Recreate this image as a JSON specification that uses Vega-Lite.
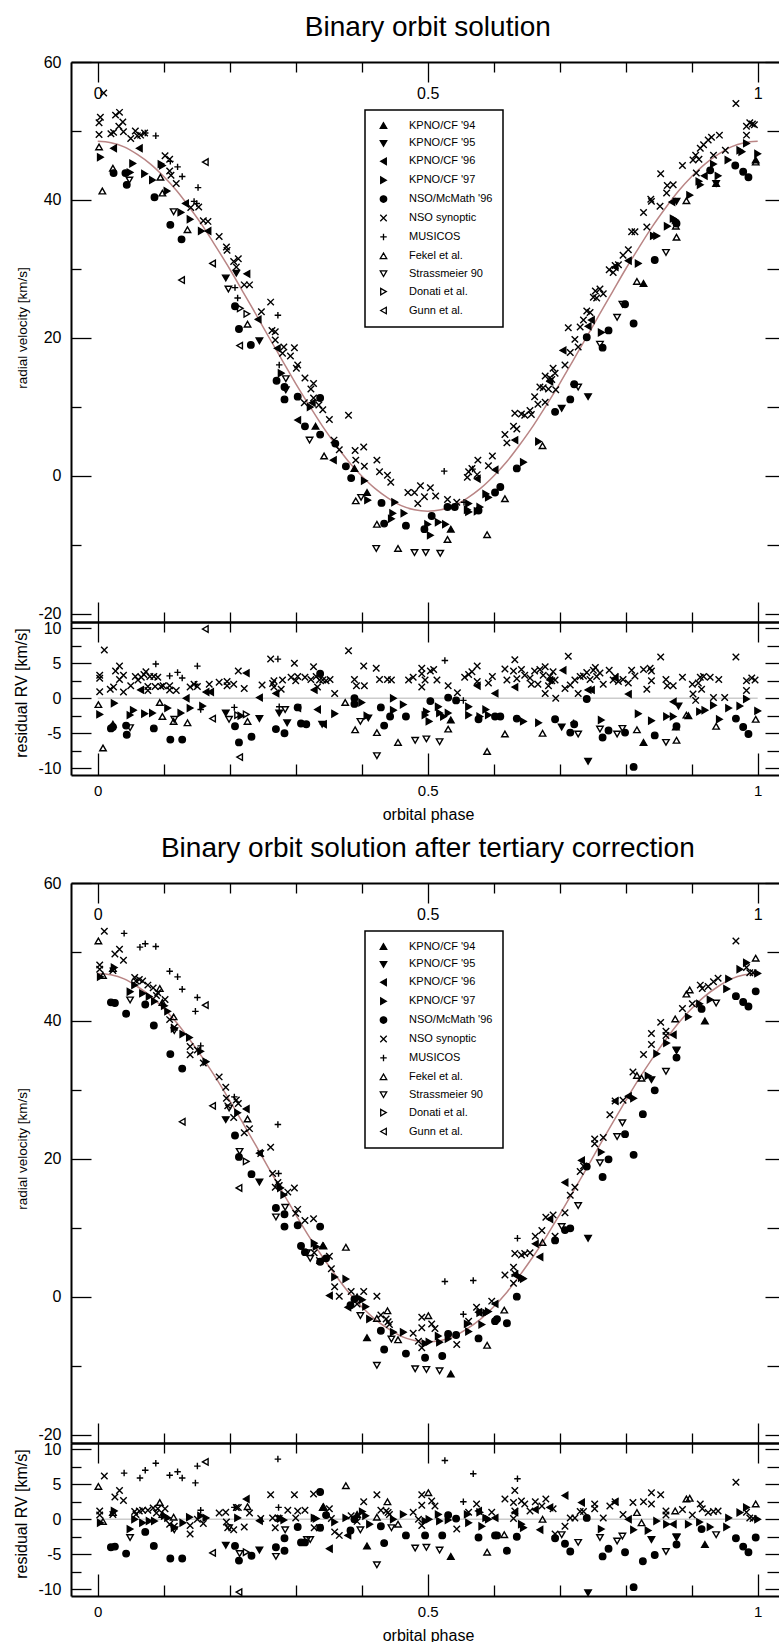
{
"$schema":"https://vega.github.io/schema/vega-lite/v6.json",
"padding":{"left":13,"top":13,"right":0,"bottom":0},
"background":"white",
"spacing":12,
"config":{
"view":{"stroke":null},
"font":"Liberation Sans",
"axis":{"domainColor":"#000","domainWidth":2,"tickColor":"#000","tickWidth":1.3,"labelFont":"Liberation Sans","labelFontSize":16,"labelColor":"#000","titleFont":"Liberation Sans","titleFontWeight":"normal","titleColor":"#000","grid":false,"labelFlush":false,"labelOverlap":false},
"title":{"font":"Liberation Sans","fontSize":28,"fontWeight":"normal","color":"#000"},
"legend":{"strokeWidth":1.5}
},
"resolve":{"scale":{"x":"independent","y":"independent","shape":"independent","fill":"independent","size":"independent"}},
"datasets":{
"z":[{"a":0,"b":1,"z":0}],
"c1":[{"p":0,"v":48.5},{"p":0.02,"v":48.3},{"p":0.04,"v":47.7},{"p":0.06,"v":46.6},{"p":0.08,"v":45.2},{"p":0.1,"v":43.4},{"p":0.12,"v":41.3},{"p":0.14,"v":38.8},{"p":0.16,"v":36.1},{"p":0.18,"v":33.1},{"p":0.2,"v":30.0},{"p":0.22,"v":26.7},{"p":0.24,"v":23.4},{"p":0.26,"v":20.0},{"p":0.28,"v":16.7},{"p":0.3,"v":13.4},{"p":0.32,"v":10.3},{"p":0.34,"v":7.3},{"p":0.36,"v":4.6},{"p":0.38,"v":2.1},{"p":0.4,"v":0.0},{"p":0.42,"v":-1.8},{"p":0.44,"v":-3.2},{"p":0.46,"v":-4.3},{"p":0.48,"v":-4.9},{"p":0.5,"v":-5.1},{"p":0.52,"v":-4.9},{"p":0.54,"v":-4.3},{"p":0.56,"v":-3.2},{"p":0.58,"v":-1.8},{"p":0.6,"v":0.0},{"p":0.62,"v":2.1},{"p":0.64,"v":4.6},{"p":0.66,"v":7.3},{"p":0.68,"v":10.3},{"p":0.7,"v":13.4},{"p":0.72,"v":16.7},{"p":0.74,"v":20.0},{"p":0.76,"v":23.4},{"p":0.78,"v":26.7},{"p":0.8,"v":30.0},{"p":0.82,"v":33.1},{"p":0.84,"v":36.1},{"p":0.86,"v":38.8},{"p":0.88,"v":41.3},{"p":0.9,"v":43.4},{"p":0.92,"v":45.2},{"p":0.94,"v":46.6},{"p":0.96,"v":47.7},{"p":0.98,"v":48.3},{"p":1,"v":48.5}],
"c2":[{"p":0,"v":46.9},{"p":0.02,"v":46.7},{"p":0.04,"v":46.1},{"p":0.06,"v":45.0},{"p":0.08,"v":43.6},{"p":0.1,"v":41.8},{"p":0.12,"v":39.7},{"p":0.14,"v":37.2},{"p":0.16,"v":34.5},{"p":0.18,"v":31.6},{"p":0.2,"v":28.45},{"p":0.22,"v":25.2},{"p":0.24,"v":21.9},{"p":0.26,"v":18.5},{"p":0.28,"v":15.2},{"p":0.3,"v":11.95},{"p":0.32,"v":8.8},{"p":0.34,"v":5.9},{"p":0.36,"v":3.2},{"p":0.38,"v":0.7},{"p":0.4,"v":-1.4},{"p":0.42,"v":-3.2},{"p":0.44,"v":-4.6},{"p":0.46,"v":-5.7},{"p":0.48,"v":-6.3},{"p":0.5,"v":-6.5},{"p":0.52,"v":-6.3},{"p":0.54,"v":-5.7},{"p":0.56,"v":-4.6},{"p":0.58,"v":-3.2},{"p":0.6,"v":-1.4},{"p":0.62,"v":0.7},{"p":0.64,"v":3.2},{"p":0.66,"v":5.9},{"p":0.68,"v":8.8},{"p":0.7,"v":11.95},{"p":0.72,"v":15.2},{"p":0.74,"v":18.5},{"p":0.76,"v":21.9},{"p":0.78,"v":25.2},{"p":0.8,"v":28.45},{"p":0.82,"v":31.6},{"p":0.84,"v":34.5},{"p":0.86,"v":37.2},{"p":0.88,"v":39.7},{"p":0.9,"v":41.8},{"p":0.92,"v":43.6},{"p":0.94,"v":45.0},{"p":0.96,"v":46.1},{"p":0.98,"v":46.7},{"p":1,"v":46.9}],
"m1":[
{"p":0.009,"v":55.5,"s":"f"},{"p":0.004,"v":52.0,"s":"f"},{"p":0.002,"v":51.2,"s":"f"},{"p":0.002,"v":49.5,"s":"f"},{"p":0.027,"v":52.3,"s":"f"},{"p":0.033,"v":52.7,"s":"f"},{"p":0.032,"v":50.7,"s":"f"},{"p":0.038,"v":51.3,"s":"f"},{"p":0.02,"v":49.6,"s":"f"},{"p":0.024,"v":49.8,"s":"f"},{"p":0.039,"v":49.9,"s":"f"},{"p":0.05,"v":48.9,"s":"f"},{"p":0.057,"v":50.0,"s":"f"},{"p":0.06,"v":49.3,"s":"f"},{"p":0.065,"v":49.4,"s":"f"},{"p":0.071,"v":49.7,"s":"f"},{"p":0.102,"v":46.4,"s":"f"},{"p":0.109,"v":45.9,"s":"f"},{"p":0.109,"v":44.2,"s":"f"},{"p":0.119,"v":42.4,"s":"f"},{"p":0.111,"v":43.6,"s":"f"},{"p":0.141,"v":38.9,"s":"f"},{"p":0.153,"v":39.0,"s":"f"},{"p":0.16,"v":37.0,"s":"f"},{"p":0.167,"v":36.9,"s":"f"},{"p":0.184,"v":34.7,"s":"f"},{"p":0.195,"v":33.2,"s":"f"},{"p":0.196,"v":32.7,"s":"f"},{"p":0.206,"v":31.1,"s":"f"},{"p":0.213,"v":31.5,"s":"f"},{"p":0.21,"v":30.3,"s":"f"},{"p":0.222,"v":27.7,"s":"f"},{"p":0.23,"v":27.7,"s":"f"},{"p":0.248,"v":23.8,"s":"f"},{"p":0.262,"v":25.2,"s":"f"},{"p":0.264,"v":21.1,"s":"f"},{"p":0.269,"v":20.9,"s":"f"},{"p":0.269,"v":19.7,"s":"f"},{"p":0.282,"v":18.7,"s":"f"},{"p":0.298,"v":18.6,"s":"f"},{"p":0.28,"v":17.8,"s":"f"},{"p":0.292,"v":17.4,"s":"f"},{"p":0.303,"v":16.1,"s":"f"},{"p":0.301,"v":15.6,"s":"f"},{"p":0.314,"v":14.2,"s":"f"},{"p":0.327,"v":13.4,"s":"f"},{"p":0.323,"v":12.6,"s":"f"},{"p":0.327,"v":11.3,"s":"f"},{"p":0.313,"v":10.6,"s":"f"},{"p":0.335,"v":10.3,"s":"f"},{"p":0.341,"v":9.6,"s":"f"},{"p":0.351,"v":8.2,"s":"f"},{"p":0.38,"v":8.8,"s":"f"},{"p":0.358,"v":5.2,"s":"f"},{"p":0.366,"v":3.8,"s":"f"},{"p":0.39,"v":3.7,"s":"f"},{"p":0.403,"v":4.2,"s":"f"},{"p":0.391,"v":2.3,"s":"f"},{"p":0.404,"v":1.4,"s":"f"},{"p":0.423,"v":2.3,"s":"f"},{"p":0.427,"v":0.6,"s":"f"},{"p":0.439,"v":0.1,"s":"f"},{"p":0.444,"v":-0.9,"s":"f"},{"p":0.47,"v":-2.4,"s":"f"},{"p":0.48,"v":-2.4,"s":"f"},{"p":0.489,"v":-1.4,"s":"f"},{"p":0.495,"v":-3.0,"s":"f"},{"p":0.504,"v":-1.7,"s":"f"},{"p":0.512,"v":-2.9,"s":"f"},{"p":0.53,"v":-3.4,"s":"f"},{"p":0.544,"v":-3.8,"s":"f"},{"p":0.485,"v":-4.0,"s":"f"},{"p":0.56,"v":-0.2,"s":"f"},{"p":0.576,"v":2.3,"s":"f"},{"p":0.562,"v":0.6,"s":"f"},{"p":0.567,"v":1.1,"s":"f"},{"p":0.575,"v":0.2,"s":"f"},{"p":0.592,"v":1.5,"s":"f"},{"p":0.598,"v":2.9,"s":"f"},{"p":0.617,"v":6.0,"s":"f"},{"p":0.62,"v":4.8,"s":"f"},{"p":0.63,"v":7.2,"s":"f"},{"p":0.632,"v":9.1,"s":"f"},{"p":0.635,"v":6.8,"s":"f"},{"p":0.642,"v":9.0,"s":"f"},{"p":0.647,"v":8.8,"s":"f"},{"p":0.655,"v":9.5,"s":"f"},{"p":0.657,"v":8.9,"s":"f"},{"p":0.662,"v":11.5,"s":"f"},{"p":0.667,"v":10.4,"s":"f"},{"p":0.67,"v":12.9,"s":"f"},{"p":0.675,"v":12.8,"s":"f"},{"p":0.678,"v":14.5,"s":"f"},{"p":0.678,"v":10.7,"s":"f"},{"p":0.683,"v":12.6,"s":"f"},{"p":0.685,"v":14.2,"s":"f"},{"p":0.688,"v":14.0,"s":"f"},{"p":0.69,"v":15.6,"s":"f"},{"p":0.693,"v":14.9,"s":"f"},{"p":0.694,"v":12.5,"s":"f"},{"p":0.708,"v":16.1,"s":"f"},{"p":0.713,"v":21.5,"s":"f"},{"p":0.716,"v":17.9,"s":"f"},{"p":0.723,"v":19.8,"s":"f"},{"p":0.728,"v":18.7,"s":"f"},{"p":0.731,"v":21.6,"s":"f"},{"p":0.736,"v":22.6,"s":"f"},{"p":0.741,"v":23.9,"s":"f"},{"p":0.746,"v":23.7,"s":"f"},{"p":0.751,"v":25.9,"s":"f"},{"p":0.754,"v":26.8,"s":"f"},{"p":0.756,"v":25.8,"s":"f"},{"p":0.761,"v":27.1,"s":"f"},{"p":0.766,"v":26.4,"s":"f"},{"p":0.775,"v":29.9,"s":"f"},{"p":0.781,"v":29.5,"s":"f"},{"p":0.784,"v":30.5,"s":"f"},{"p":0.789,"v":30.6,"s":"f"},{"p":0.796,"v":32.0,"s":"f"},{"p":0.804,"v":32.8,"s":"f"},{"p":0.809,"v":35.4,"s":"f"},{"p":0.814,"v":35.4,"s":"f"},{"p":0.827,"v":38.2,"s":"f"},{"p":0.832,"v":36.1,"s":"f"},{"p":0.838,"v":40.1,"s":"f"},{"p":0.839,"v":39.8,"s":"f"},{"p":0.852,"v":39.1,"s":"f"},{"p":0.853,"v":43.8,"s":"f"},{"p":0.863,"v":42.1,"s":"f"},{"p":0.872,"v":42.2,"s":"f"},{"p":0.862,"v":41.0,"s":"f"},{"p":0.886,"v":45.0,"s":"f"},{"p":0.902,"v":45.8,"s":"f"},{"p":0.906,"v":46.5,"s":"f"},{"p":0.911,"v":45.9,"s":"f"},{"p":0.913,"v":47.5,"s":"f"},{"p":0.918,"v":48.0,"s":"f"},{"p":0.925,"v":48.7,"s":"f"},{"p":0.93,"v":49.1,"s":"f"},{"p":0.933,"v":46.5,"s":"f"},{"p":0.942,"v":49.4,"s":"f"},{"p":0.951,"v":47.2,"s":"f"},{"p":0.967,"v":54.0,"s":"f"},{"p":0.983,"v":50.7,"s":"f"},{"p":0.988,"v":51.2,"s":"f"},{"p":0.992,"v":51.0,"s":"f"},{"p":0.995,"v":50.9,"s":"f"},{"p":0.983,"v":49.4,"s":"f"},{"p":0.907,"v":43.9,"s":"f"},
{"p":0.072,"v":49.7,"s":"g"},{"p":0.088,"v":49.3,"s":"g"},{"p":0.11,"v":45.6,"s":"g"},{"p":0.121,"v":44.8,"s":"g"},{"p":0.128,"v":43.4,"s":"g"},{"p":0.152,"v":41.8,"s":"g"},{"p":0.146,"v":39.8,"s":"g"},{"p":0.15,"v":39.5,"s":"g"},{"p":0.208,"v":27.3,"s":"g"},{"p":0.212,"v":25.8,"s":"g"},{"p":0.273,"v":23.3,"s":"g"},{"p":0.275,"v":16.1,"s":"g"},{"p":0.525,"v":0.7,"s":"g"},{"p":0.555,"v":-3.8,"s":"g"},{"p":0.568,"v":1.0,"s":"g"},{"p":0.721,"v":13.3,"s":"g"},
{"p":0.024,"v":47.5,"s":"c"},{"p":0.063,"v":47.5,"s":"c"},{"p":0.133,"v":39.5,"s":"c"},{"p":0.167,"v":35.5,"s":"c"},{"p":0.226,"v":29.3,"s":"c"},{"p":0.243,"v":22.7,"s":"c"},{"p":0.272,"v":18.5,"s":"c"},{"p":0.303,"v":8.1,"s":"c"},{"p":0.325,"v":10.6,"s":"c"},{"p":0.357,"v":2.3,"s":"c"},{"p":0.575,"v":-0.4,"s":"c"},{"p":0.602,"v":0.9,"s":"c"},{"p":0.632,"v":5.2,"s":"c"},{"p":0.685,"v":13.7,"s":"c"},{"p":0.705,"v":18.2,"s":"c"},{"p":0.743,"v":21.7,"s":"c"},{"p":0.748,"v":22.6,"s":"c"},{"p":0.784,"v":30.3,"s":"c"},{"p":0.804,"v":31.2,"s":"c"},{"p":0.87,"v":39.7,"s":"c"},{"p":0.919,"v":43.5,"s":"c"},
{"p":0.004,"v":46.2,"s":"d"},{"p":0.053,"v":45.3,"s":"d"},{"p":0.049,"v":44.0,"s":"d"},{"p":0.071,"v":43.8,"s":"d"},{"p":0.083,"v":42.9,"s":"d"},{"p":0.096,"v":45.2,"s":"d"},{"p":0.098,"v":45.0,"s":"d"},{"p":0.105,"v":41.3,"s":"d"},{"p":0.126,"v":38.2,"s":"d"},{"p":0.14,"v":37.2,"s":"d"},{"p":0.157,"v":35.5,"s":"d"},{"p":0.278,"v":14.9,"s":"d"},{"p":0.322,"v":10.0,"s":"d"},{"p":0.404,"v":-0.7,"s":"d"},{"p":0.409,"v":-3.5,"s":"d"},{"p":0.45,"v":-3.8,"s":"d"},{"p":0.447,"v":-5.4,"s":"d"},{"p":0.445,"v":-6.2,"s":"d"},{"p":0.464,"v":-5.4,"s":"d"},{"p":0.5,"v":-7.0,"s":"d"},{"p":0.504,"v":-8.6,"s":"d"},{"p":0.516,"v":-6.7,"s":"d"},{"p":0.527,"v":-7.0,"s":"d"},{"p":0.56,"v":-4.9,"s":"d"},{"p":0.575,"v":-5.1,"s":"d"},{"p":0.562,"v":-4.0,"s":"d"},{"p":0.562,"v":-5.2,"s":"d"},{"p":0.579,"v":-4.5,"s":"d"},{"p":0.588,"v":-2.6,"s":"d"},{"p":0.592,"v":-3.1,"s":"d"},{"p":0.645,"v":2.0,"s":"d"},{"p":0.668,"v":5.0,"s":"d"},{"p":0.763,"v":20.8,"s":"d"},{"p":0.819,"v":30.8,"s":"d"},{"p":0.842,"v":34.8,"s":"d"},{"p":0.847,"v":34.8,"s":"d"},{"p":0.863,"v":36.2,"s":"d"},{"p":0.872,"v":37.3,"s":"d"},{"p":0.875,"v":37.1,"s":"d"},{"p":0.897,"v":40.7,"s":"d"},{"p":0.911,"v":42.7,"s":"d"},{"p":0.913,"v":42.2,"s":"d"},{"p":0.933,"v":45.2,"s":"d"},{"p":0.94,"v":43.5,"s":"d"},{"p":0.955,"v":45.8,"s":"d"},{"p":0.973,"v":47.2,"s":"d"},{"p":0.976,"v":47.0,"s":"d"},{"p":0.983,"v":48.2,"s":"d"},{"p":1.0,"v":46.7,"s":"d"},
{"p":0.33,"v":7.2,"s":"a"},{"p":0.389,"v":1.1,"s":"a"},{"p":0.408,"v":-2.4,"s":"a"},{"p":0.535,"v":-7.7,"s":"a"},{"p":0.827,"v":27.9,"s":"a"},{"p":0.937,"v":42.4,"s":"a"},{"p":0.997,"v":45.8,"s":"a"},
{"p":0.194,"v":28.7,"s":"b"},{"p":0.21,"v":29.4,"s":"b"},{"p":0.245,"v":19.6,"s":"b"},{"p":0.703,"v":9.8,"s":"b"},{"p":0.743,"v":11.5,"s":"b"},{"p":0.877,"v":39.8,"s":"b"},{"p":0.937,"v":42.4,"s":"b"},
{"p":0.024,"v":43.9,"s":"e"},{"p":0.044,"v":42.2,"s":"e"},{"p":0.042,"v":43.9,"s":"e"},{"p":0.086,"v":40.4,"s":"e"},{"p":0.11,"v":36.4,"s":"e"},{"p":0.127,"v":34.3,"s":"e"},{"p":0.208,"v":24.6,"s":"e"},{"p":0.214,"v":21.3,"s":"e"},{"p":0.232,"v":19.0,"s":"e"},{"p":0.271,"v":13.8,"s":"e"},{"p":0.283,"v":12.9,"s":"e"},{"p":0.283,"v":11.1,"s":"e"},{"p":0.303,"v":11.5,"s":"e"},{"p":0.337,"v":11.3,"s":"e"},{"p":0.314,"v":7.2,"s":"e"},{"p":0.337,"v":6.0,"s":"e"},{"p":0.36,"v":4.7,"s":"e"},{"p":0.376,"v":1.4,"s":"e"},{"p":0.384,"v":-0.3,"s":"e"},{"p":0.43,"v":-3.9,"s":"e"},{"p":0.434,"v":-6.9,"s":"e"},{"p":0.467,"v":-7.2,"s":"e"},{"p":0.506,"v":-5.8,"s":"e"},{"p":0.495,"v":-7.7,"s":"e"},{"p":0.53,"v":-4.5,"s":"e"},{"p":0.541,"v":-4.5,"s":"e"},{"p":0.577,"v":-5.0,"s":"e"},{"p":0.602,"v":-2.4,"s":"e"},{"p":0.61,"v":-1.6,"s":"e"},{"p":0.635,"v":1.1,"s":"e"},{"p":0.693,"v":9.3,"s":"e"},{"p":0.716,"v":11.1,"s":"e"},{"p":0.722,"v":13.3,"s":"e"},{"p":0.741,"v":20.1,"s":"e"},{"p":0.765,"v":18.6,"s":"e"},{"p":0.774,"v":21.1,"s":"e"},{"p":0.799,"v":24.9,"s":"e"},{"p":0.812,"v":22.1,"s":"e"},{"p":0.844,"v":31.3,"s":"e"},{"p":0.877,"v":36.6,"s":"e"},{"p":0.928,"v":44.3,"s":"e"},{"p":0.966,"v":45.0,"s":"e"},{"p":0.978,"v":44.1,"s":"e"},{"p":0.986,"v":43.3,"s":"e"},
{"p":0.002,"v":47.7,"s":"h"},{"p":0.007,"v":41.3,"s":"h"},{"p":0.023,"v":44.6,"s":"h"},{"p":0.095,"v":43.3,"s":"h"},{"p":0.098,"v":41.0,"s":"h"},{"p":0.136,"v":35.7,"s":"h"},{"p":0.227,"v":22.0,"s":"h"},{"p":0.343,"v":2.9,"s":"h"},{"p":0.391,"v":-3.6,"s":"h"},{"p":0.423,"v":-7.0,"s":"h"},{"p":0.455,"v":-10.5,"s":"h"},{"p":0.53,"v":-9.2,"s":"h"},{"p":0.59,"v":-8.5,"s":"h"},{"p":0.617,"v":-3.3,"s":"h"},{"p":0.674,"v":4.4,"s":"h"},{"p":0.817,"v":28.2,"s":"h"},{"p":0.876,"v":36.2,"s":"h"},{"p":0.877,"v":34.6,"s":"h"},{"p":0.892,"v":39.9,"s":"h"},{"p":0.997,"v":45.5,"s":"h"},
{"p":0.048,"v":42.9,"s":"i"},{"p":0.115,"v":38.3,"s":"i"},{"p":0.198,"v":27.1,"s":"i"},{"p":0.285,"v":14.1,"s":"i"},{"p":0.285,"v":12.5,"s":"i"},{"p":0.321,"v":5.2,"s":"i"},{"p":0.399,"v":-3.1,"s":"i"},{"p":0.422,"v":-10.5,"s":"i"},{"p":0.48,"v":-11.1,"s":"i"},{"p":0.497,"v":-11.1,"s":"i"},{"p":0.519,"v":-11.2,"s":"i"},{"p":0.728,"v":12.9,"s":"i"},{"p":0.761,"v":19.1,"s":"i"},{"p":0.787,"v":23.0,"s":"i"},{"p":0.795,"v":24.9,"s":"i"},{"p":0.861,"v":32.4,"s":"i"},
{"p":0.216,"v":24.3,"s":"j"},{"p":0.226,"v":23.5,"s":"j"},
{"p":0.163,"v":45.5,"s":"k"},{"p":0.174,"v":30.8,"s":"k"},{"p":0.127,"v":28.4,"s":"k"},{"p":0.215,"v":18.9,"s":"k"}
],
"r1":[
{"p":0.003,"v":3.3,"s":"f"},{"p":0.003,"v":2.85,"s":"f"},{"p":0.003,"v":0.95,"s":"f"},{"p":0.01,"v":6.9,"s":"f"},{"p":0.019,"v":1.3,"s":"f"},{"p":0.024,"v":1.6,"s":"f"},{"p":0.027,"v":3.9,"s":"f"},{"p":0.033,"v":4.6,"s":"f"},{"p":0.033,"v":2.7,"s":"f"},{"p":0.039,"v":3.3,"s":"f"},{"p":0.039,"v":0.9,"s":"f"},{"p":0.05,"v":1.8,"s":"f"},{"p":0.057,"v":3.1,"s":"f"},{"p":0.061,"v":2.6,"s":"f"},{"p":0.066,"v":3.0,"s":"f"},{"p":0.07,"v":3.4,"s":"f"},{"p":0.073,"v":3.8,"s":"f"},{"p":0.076,"v":1.1,"s":"f"},{"p":0.076,"v":1.7,"s":"f"},{"p":0.079,"v":3.1,"s":"f"},{"p":0.085,"v":3.1,"s":"f"},{"p":0.087,"v":1.7,"s":"f"},{"p":0.091,"v":3.0,"s":"f"},{"p":0.096,"v":1.7,"s":"f"},{"p":0.099,"v":1.8,"s":"f"},{"p":0.109,"v":1.8,"s":"f"},{"p":0.109,"v":1.2,"s":"f"},{"p":0.119,"v":1.1,"s":"f"},{"p":0.14,"v":1.6,"s":"f"},{"p":0.146,"v":2.0,"s":"f"},{"p":0.151,"v":1.7,"s":"f"},{"p":0.169,"v":2.0,"s":"f"},{"p":0.184,"v":2.3,"s":"f"},{"p":0.196,"v":2.4,"s":"f"},{"p":0.196,"v":1.8,"s":"f"},{"p":0.206,"v":2.0,"s":"f"},{"p":0.213,"v":3.9,"s":"f"},{"p":0.222,"v":1.4,"s":"f"},{"p":0.249,"v":1.9,"s":"f"},{"p":0.262,"v":5.6,"s":"f"},{"p":0.265,"v":2.1,"s":"f"},{"p":0.267,"v":1.6,"s":"f"},{"p":0.267,"v":2.5,"s":"f"},{"p":0.278,"v":1.3,"s":"f"},{"p":0.28,"v":2.6,"s":"f"},{"p":0.293,"v":3.0,"s":"f"},{"p":0.298,"v":5.0,"s":"f"},{"p":0.3,"v":2.5,"s":"f"},{"p":0.303,"v":3.1,"s":"f"},{"p":0.314,"v":3.0,"s":"f"},{"p":0.323,"v":2.7,"s":"f"},{"p":0.327,"v":4.5,"s":"f"},{"p":0.331,"v":3.1,"s":"f"},{"p":0.333,"v":1.6,"s":"f"},{"p":0.336,"v":2.6,"s":"f"},{"p":0.341,"v":2.6,"s":"f"},{"p":0.346,"v":2.5,"s":"f"},{"p":0.352,"v":2.7,"s":"f"},{"p":0.359,"v":0.7,"s":"f"},{"p":0.38,"v":6.8,"s":"f"},{"p":0.389,"v":2.7,"s":"f"},{"p":0.392,"v":1.8,"s":"f"},{"p":0.403,"v":4.6,"s":"f"},{"p":0.404,"v":1.8,"s":"f"},{"p":0.422,"v":4.3,"s":"f"},{"p":0.427,"v":2.7,"s":"f"},{"p":0.439,"v":2.7,"s":"f"},
{"p":0.445,"v":2.6,"s":"f"},{"p":0.471,"v":2.6,"s":"f"},{"p":0.478,"v":3.0,"s":"f"},{"p":0.491,"v":1.6,"s":"f"},{"p":0.491,"v":4.3,"s":"f"},{"p":0.491,"v":3.5,"s":"f"},{"p":0.496,"v":2.6,"s":"f"},{"p":0.504,"v":3.9,"s":"f"},{"p":0.509,"v":4.1,"s":"f"},{"p":0.514,"v":2.6,"s":"f"},{"p":0.531,"v":1.8,"s":"f"},{"p":0.545,"v":0.8,"s":"f"},{"p":0.556,"v":3.0,"s":"f"},{"p":0.562,"v":3.4,"s":"f"},{"p":0.567,"v":3.8,"s":"f"},{"p":0.575,"v":4.6,"s":"f"},{"p":0.575,"v":2.4,"s":"f"},{"p":0.592,"v":2.2,"s":"f"},{"p":0.598,"v":3.1,"s":"f"},{"p":0.617,"v":4.2,"s":"f"},{"p":0.62,"v":2.6,"s":"f"},{"p":0.63,"v":3.9,"s":"f"},{"p":0.632,"v":5.5,"s":"f"},{"p":0.635,"v":2.8,"s":"f"},{"p":0.642,"v":4.1,"s":"f"},{"p":0.647,"v":3.3,"s":"f"},{"p":0.655,"v":2.9,"s":"f"},{"p":0.657,"v":2.0,"s":"f"},{"p":0.662,"v":3.9,"s":"f"},{"p":0.667,"v":2.0,"s":"f"},{"p":0.67,"v":4.1,"s":"f"},{"p":0.675,"v":3.3,"s":"f"},{"p":0.678,"v":4.5,"s":"f"},{"p":0.678,"v":0.7,"s":"f"},{"p":0.683,"v":1.8,"s":"f"},{"p":0.685,"v":3.1,"s":"f"},{"p":0.688,"v":2.5,"s":"f"},{"p":0.69,"v":3.8,"s":"f"},{"p":0.693,"v":2.6,"s":"f"},{"p":0.694,"v":0.0,"s":"f"},{"p":0.708,"v":1.4,"s":"f"},{"p":0.713,"v":6.0,"s":"f"},{"p":0.716,"v":1.9,"s":"f"},{"p":0.723,"v":2.6,"s":"f"},{"p":0.728,"v":0.7,"s":"f"},{"p":0.731,"v":3.1,"s":"f"},{"p":0.736,"v":3.2,"s":"f"},{"p":0.741,"v":3.7,"s":"f"},{"p":0.746,"v":2.7,"s":"f"},{"p":0.751,"v":4.0,"s":"f"},{"p":0.754,"v":4.4,"s":"f"},{"p":0.756,"v":3.1,"s":"f"},{"p":0.761,"v":3.6,"s":"f"},{"p":0.766,"v":2.0,"s":"f"},{"p":0.775,"v":4.0,"s":"f"},{"p":0.781,"v":2.6,"s":"f"},{"p":0.784,"v":3.1,"s":"f"},{"p":0.789,"v":2.4,"s":"f"},{"p":0.796,"v":2.7,"s":"f"},{"p":0.804,"v":2.2,"s":"f"},{"p":0.809,"v":4.0,"s":"f"},{"p":0.814,"v":3.2,"s":"f"},{"p":0.827,"v":4.1,"s":"f"},{"p":0.832,"v":1.3,"s":"f"},{"p":0.837,"v":4.3,"s":"f"},{"p":0.839,"v":3.9,"s":"f"},{"p":0.839,"v":2.5,"s":"f"},{"p":0.853,"v":5.9,"s":"f"},{"p":0.861,"v":2.7,"s":"f"},{"p":0.863,"v":1.8,"s":"f"},{"p":0.872,"v":1.8,"s":"f"},{"p":0.886,"v":3.0,"s":"f"},{"p":0.901,"v":2.0,"s":"f"},{"p":0.902,"v":0.6,"s":"f"},{"p":0.906,"v":-0.3,"s":"f"},{"p":0.91,"v":2.2,"s":"f"},{"p":0.913,"v":3.0,"s":"f"},{"p":0.915,"v":1.3,"s":"f"},{"p":0.918,"v":3.1,"s":"f"},{"p":0.928,"v":3.0,"s":"f"},{"p":0.933,"v":0.1,"s":"f"},{"p":0.941,"v":2.7,"s":"f"},{"p":0.95,"v":0.1,"s":"f"},{"p":0.967,"v":5.9,"s":"f"},{"p":0.983,"v":1.1,"s":"f"},{"p":0.983,"v":2.5,"s":"f"},{"p":0.991,"v":2.9,"s":"f"},{"p":0.996,"v":2.6,"s":"f"},
{"p":0.088,"v":4.9,"s":"g"},{"p":0.109,"v":3.2,"s":"g"},{"p":0.121,"v":3.7,"s":"g"},{"p":0.128,"v":2.9,"s":"g"},{"p":0.151,"v":4.6,"s":"g"},{"p":0.148,"v":2.0,"s":"g"},{"p":0.156,"v":-1.6,"s":"g"},{"p":0.207,"v":-1.3,"s":"g"},{"p":0.273,"v":5.6,"s":"g"},{"p":0.275,"v":-1.2,"s":"g"},{"p":0.526,"v":5.4,"s":"g"},{"p":0.554,"v":-0.3,"s":"g"},{"p":0.721,"v":-3.5,"s":"g"},
{"p":0.065,"v":1.2,"s":"c"},{"p":0.134,"v":0,"s":"c"},{"p":0.164,"v":0.9,"s":"c"},{"p":0.171,"v":0.9,"s":"c"},{"p":0.225,"v":3.6,"s":"c"},{"p":0.245,"v":0.1,"s":"c"},{"p":0.27,"v":0.7,"s":"c"},{"p":0.303,"v":-1.4,"s":"c"},{"p":0.328,"v":1.2,"s":"c"},{"p":0.333,"v":-1.6,"s":"c"},{"p":0.342,"v":-3.7,"s":"c"},{"p":0.575,"v":1.8,"s":"c"},{"p":0.602,"v":0.7,"s":"c"},{"p":0.632,"v":1.6,"s":"c"},{"p":0.685,"v":2.6,"s":"c"},{"p":0.705,"v":4.0,"s":"c"},{"p":0.743,"v":1.2,"s":"c"},{"p":0.748,"v":1.2,"s":"c"},{"p":0.784,"v":2.9,"s":"c"},{"p":0.804,"v":0.6,"s":"c"},{"p":0.872,"v":-0.5,"s":"c"},
{"p":0.003,"v":-2.3,"s":"d"},{"p":0.025,"v":-0.7,"s":"d"},{"p":0.049,"v":-2.4,"s":"d"},{"p":0.054,"v":-1.7,"s":"d"},{"p":0.071,"v":-2.2,"s":"d"},{"p":0.083,"v":-2.1,"s":"d"},{"p":0.106,"v":-1.4,"s":"d"},{"p":0.126,"v":-2.1,"s":"d"},{"p":0.14,"v":-1.4,"s":"d"},{"p":0.159,"v":-1.1,"s":"d"},{"p":0.217,"v":-2.5,"s":"d"},{"p":0.359,"v":-2.2,"s":"d"},{"p":0.4,"v":-0.6,"s":"d"},{"p":0.408,"v":-2.5,"s":"d"},{"p":0.448,"v":0,"s":"d"},{"p":0.463,"v":-0.9,"s":"d"},{"p":0.448,"v":-1.7,"s":"d"},{"p":0.498,"v":-1.9,"s":"d"},{"p":0.496,"v":-2.4,"s":"d"},{"p":0.502,"v":-3.3,"s":"d"},{"p":0.516,"v":-1.2,"s":"d"},{"p":0.518,"v":-2.1,"s":"d"},{"p":0.524,"v":-2.6,"s":"d"},{"p":0.531,"v":-2.1,"s":"d"},{"p":0.562,"v":-1.2,"s":"d"},{"p":0.562,"v":-2.4,"s":"d"},{"p":0.579,"v":-2.6,"s":"d"},{"p":0.588,"v":-1.6,"s":"d"},{"p":0.592,"v":-2.4,"s":"d"},{"p":0.645,"v":-3.3,"s":"d"},{"p":0.668,"v":-3.5,"s":"d"},{"p":0.763,"v":-3.1,"s":"d"},{"p":0.819,"v":-2.2,"s":"d"},{"p":0.839,"v":-3.2,"s":"d"},{"p":0.862,"v":-2.6,"s":"d"},{"p":0.872,"v":-2.6,"s":"d"},{"p":0.912,"v":-1.9,"s":"d"},{"p":0.92,"v":-1.7,"s":"d"},{"p":0.933,"v":-1.0,"s":"d"},{"p":0.942,"v":-3.0,"s":"d"},{"p":0.956,"v":-1.4,"s":"d"},{"p":0.973,"v":-1.1,"s":"d"},{"p":0.983,"v":-0.1,"s":"d"},{"p":1.0,"v":-1.8,"s":"d"},
{"p":0.535,"v":-3.1,"s":"a"},{"p":0.827,"v":-6.3,"s":"a"},{"p":0.895,"v":-2.5,"s":"a"},
{"p":0.194,"v":-2.1,"s":"b"},{"p":0.245,"v":-2.9,"s":"b"},{"p":0.287,"v":-3.5,"s":"b"},{"p":0.275,"v":-2.1,"s":"b"},{"p":0.34,"v":-3.7,"s":"b"},{"p":0.41,"v":-2.8,"s":"b"},{"p":0.743,"v":-9.0,"s":"b"},{"p":0.88,"v":-1.1,"s":"b"},{"p":0.703,"v":-4.1,"s":"b"},
{"p":0.02,"v":-4.3,"s":"e"},{"p":0.023,"v":-4.1,"s":"e"},{"p":0.043,"v":-3.9,"s":"e"},{"p":0.044,"v":-5.2,"s":"e"},{"p":0.085,"v":-4.3,"s":"e"},{"p":0.11,"v":-5.9,"s":"e"},{"p":0.128,"v":-5.9,"s":"e"},{"p":0.208,"v":-4.0,"s":"e"},{"p":0.214,"v":-6.3,"s":"e"},{"p":0.233,"v":-5.5,"s":"e"},{"p":0.27,"v":-4.4,"s":"e"},{"p":0.283,"v":-5.0,"s":"e"},{"p":0.303,"v":-1.3,"s":"e"},{"p":0.308,"v":-3.6,"s":"e"},{"p":0.316,"v":-3.7,"s":"e"},{"p":0.337,"v":3.5,"s":"e"},{"p":0.389,"v":-0.8,"s":"e"},{"p":0.389,"v":0.0,"s":"e"},{"p":0.429,"v":-1.3,"s":"e"},{"p":0.434,"v":-3.9,"s":"e"},{"p":0.443,"v":-2.6,"s":"e"},{"p":0.467,"v":-2.6,"s":"e"},{"p":0.504,"v":-0.4,"s":"e"},{"p":0.531,"v":0.1,"s":"e"},{"p":0.543,"v":-0.3,"s":"e"},{"p":0.577,"v":-3.0,"s":"e"},{"p":0.602,"v":-2.6,"s":"e"},{"p":0.61,"v":-2.6,"s":"e"},{"p":0.635,"v":-2.9,"s":"e"},{"p":0.693,"v":-3.0,"s":"e"},{"p":0.716,"v":-4.9,"s":"e"},{"p":0.722,"v":-3.7,"s":"e"},{"p":0.741,"v":-0.1,"s":"e"},{"p":0.765,"v":-5.6,"s":"e"},{"p":0.774,"v":-4.6,"s":"e"},{"p":0.799,"v":-4.9,"s":"e"},{"p":0.812,"v":-9.8,"s":"e"},{"p":0.844,"v":-5.3,"s":"e"},{"p":0.877,"v":-4.0,"s":"e"},{"p":0.967,"v":-2.9,"s":"e"},{"p":0.978,"v":-4.1,"s":"e"},{"p":0.986,"v":-5.1,"s":"e"},
{"p":0.001,"v":-0.9,"s":"h"},{"p":0.008,"v":-7.1,"s":"h"},{"p":0.023,"v":-3.7,"s":"h"},{"p":0.094,"v":-0.6,"s":"h"},{"p":0.098,"v":-2.6,"s":"h"},{"p":0.115,"v":-3.3,"s":"h"},{"p":0.136,"v":-3.5,"s":"h"},{"p":0.227,"v":-3.3,"s":"h"},{"p":0.375,"v":-0.6,"s":"h"},{"p":0.39,"v":-4.5,"s":"h"},{"p":0.423,"v":-4.9,"s":"h"},{"p":0.455,"v":-6.3,"s":"h"},{"p":0.531,"v":-4.4,"s":"h"},{"p":0.59,"v":-7.6,"s":"h"},{"p":0.617,"v":-5.1,"s":"h"},{"p":0.674,"v":-5.0,"s":"h"},{"p":0.817,"v":-4.5,"s":"h"},{"p":0.877,"v":-6.0,"s":"h"},{"p":0.876,"v":-4.1,"s":"h"},{"p":0.892,"v":-2.4,"s":"h"},{"p":0.937,"v":-4.0,"s":"h"},{"p":0.997,"v":-3.0,"s":"h"},
{"p":0.049,"v":-4.2,"s":"i"},{"p":0.116,"v":-3.0,"s":"i"},{"p":0.199,"v":-3.0,"s":"i"},{"p":0.284,"v":-1.6,"s":"i"},{"p":0.398,"v":-3.3,"s":"i"},{"p":0.423,"v":-8.2,"s":"i"},{"p":0.481,"v":-6.0,"s":"i"},{"p":0.498,"v":-5.8,"s":"i"},{"p":0.518,"v":-6.2,"s":"i"},{"p":0.728,"v":-5.1,"s":"i"},{"p":0.761,"v":-4.4,"s":"i"},{"p":0.787,"v":-5.1,"s":"i"},{"p":0.795,"v":-4.3,"s":"i"},{"p":0.861,"v":-6.3,"s":"i"},
{"p":0.212,"v":-2.4,"s":"j"},{"p":0.225,"v":-2.3,"s":"j"},
{"p":0.163,"v":9.9,"s":"k"},{"p":0.215,"v":-8.4,"s":"k"},{"p":0.174,"v":-2.9,"s":"k"}
],
"r2":[
{"p":0.001,"v":4.7,"s":"h"},{"p":0.008,"v":-0.3,"s":"h"},{"p":0.023,"v":0.96,"s":"h"},{"p":0.094,"v":2.4,"s":"h"},{"p":0.098,"v":0.7,"s":"h"},{"p":0.115,"v":0.3,"s":"h"},{"p":0.227,"v":1.8,"s":"h"},{"p":0.342,"v":1.8,"s":"h"},{"p":0.376,"v":4.8,"s":"h"},{"p":0.423,"v":0.3,"s":"h"},{"p":0.439,"v":2.5,"s":"h"},{"p":0.455,"v":-0.7,"s":"h"},{"p":0.501,"v":3.8,"s":"h"},{"p":0.59,"v":-4.7,"s":"h"},{"p":0.616,"v":-2.2,"s":"h"},{"p":0.674,"v":0,"s":"h"},{"p":0.817,"v":0.96,"s":"h"},{"p":0.824,"v":-0.5,"s":"h"},{"p":0.875,"v":1.2,"s":"h"},{"p":0.892,"v":2.9,"s":"h"},{"p":0.897,"v":3.0,"s":"h"},{"p":0.997,"v":2.2,"s":"h"},
{"p":0.003,"v":1.2,"s":"f"},{"p":0.003,"v":0.6,"s":"f"},{"p":0.01,"v":6.2,"s":"f"},{"p":0.026,"v":3.2,"s":"f"},{"p":0.033,"v":4.1,"s":"f"},{"p":0.039,"v":2.7,"s":"f"},{"p":0.023,"v":0.7,"s":"f"},{"p":0.056,"v":1.1,"s":"f"},{"p":0.058,"v":0.7,"s":"f"},{"p":0.063,"v":1.2,"s":"f"},{"p":0.068,"v":1.3,"s":"f"},{"p":0.076,"v":1.3,"s":"f"},{"p":0.084,"v":1.6,"s":"f"},{"p":0.089,"v":0.9,"s":"f"},{"p":0.091,"v":1.5,"s":"f"},{"p":0.102,"v":1.5,"s":"f"},{"p":0.109,"v":-0.7,"s":"f"},{"p":0.116,"v":-1.0,"s":"f"},{"p":0.14,"v":-0.9,"s":"f"},{"p":0.14,"v":-2.1,"s":"f"},{"p":0.151,"v":0,"s":"f"},{"p":0.16,"v":-0.6,"s":"f"},{"p":0.184,"v":0.9,"s":"f"},{"p":0.194,"v":1.0,"s":"f"},{"p":0.195,"v":-0.4,"s":"f"},{"p":0.197,"v":-1.2,"s":"f"},{"p":0.206,"v":-1.5,"s":"f"},{"p":0.21,"v":1.7,"s":"f"},{"p":0.213,"v":1.7,"s":"f"},{"p":0.222,"v":-1.1,"s":"f"},{"p":0.23,"v":0.9,"s":"f"},{"p":0.247,"v":0.1,"s":"f"},{"p":0.262,"v":3.5,"s":"f"},{"p":0.265,"v":0.2,"s":"f"},{"p":0.269,"v":-1.2,"s":"f"},{"p":0.273,"v":0.2,"s":"f"},{"p":0.275,"v":0.1,"s":"f"},{"p":0.288,"v":1.3,"s":"f"},{"p":0.298,"v":3.5,"s":"f"},{"p":0.3,"v":0.2,"s":"f"},{"p":0.303,"v":1.2,"s":"f"},{"p":0.314,"v":1.3,"s":"f"},{"p":0.327,"v":3.6,"s":"f"},{"p":0.328,"v":-1.2,"s":"f"},{"p":0.336,"v":-1.2,"s":"f"},{"p":0.351,"v":1.5,"s":"f"},{"p":0.354,"v":0.1,"s":"f"},{"p":0.359,"v":-1.8,"s":"f"},{"p":0.366,"v":-2.3,"s":"f"},{"p":0.384,"v":0.5,"s":"f"},{"p":0.393,"v":-0.3,"s":"f"},{"p":0.403,"v":2.5,"s":"f"},{"p":0.423,"v":3.5,"s":"f"},{"p":0.429,"v":1.3,"s":"f"},{"p":0.437,"v":1.2,"s":"f"},{"p":0.442,"v":0.7,"s":"f"},{"p":0.44,"v":0.96,"s":"f"},{"p":0.491,"v":3.5,"s":"f"},{"p":0.491,"v":2.0,"s":"f"},{"p":0.491,"v":-0.9,"s":"f"},{"p":0.506,"v":2.6,"s":"f"},{"p":0.511,"v":1.9,"s":"f"},{"p":0.486,"v":0,"s":"f"},{"p":0.478,"v":1.0,"s":"f"},{"p":0.544,"v":-1.4,"s":"f"},{"p":0.574,"v":2.2,"s":"f"},{"p":0.562,"v":1.0,"s":"f"},{"p":0.597,"v":1.0,"s":"f"},{"p":0.617,"v":2.9,"s":"f"},{"p":0.63,"v":2.4,"s":"f"},{"p":0.632,"v":4.1,"s":"f"},{"p":0.632,"v":1.2,"s":"f"},{"p":0.642,"v":2.6,"s":"f"},{"p":0.63,"v":0.1,"s":"f"},{"p":0.647,"v":2.2,"s":"f"},{"p":0.655,"v":1.2,"s":"f"},{"p":0.663,"v":2.5,"s":"f"},{"p":0.673,"v":1.9,"s":"f"},{"p":0.679,"v":2.9,"s":"f"},{"p":0.69,"v":1.5,"s":"f"},{"p":0.693,"v":-2.1,"s":"f"},{"p":0.708,"v":-1.0,"s":"f"},{"p":0.716,"v":0.2,"s":"f"},{"p":0.723,"v":0.2,"s":"f"},{"p":0.731,"v":1.1,"s":"f"},{"p":0.736,"v":1.1,"s":"f"},{"p":0.753,"v":2.2,"s":"f"},{"p":0.753,"v":1.5,"s":"f"},{"p":0.766,"v":0.2,"s":"f"},{"p":0.776,"v":1.9,"s":"f"},{"p":0.784,"v":2.5,"s":"f"},{"p":0.796,"v":0.7,"s":"f"},{"p":0.811,"v":2.4,"s":"f"},{"p":0.827,"v":2.5,"s":"f"},{"p":0.839,"v":3.8,"s":"f"},{"p":0.839,"v":2.2,"s":"f"},{"p":0.853,"v":3.5,"s":"f"},{"p":0.861,"v":1.2,"s":"f"},{"p":0.861,"v":0.6,"s":"f"},{"p":0.886,"v":1.4,"s":"f"},{"p":0.901,"v":0.6,"s":"f"},{"p":0.913,"v":2.2,"s":"f"},{"p":0.916,"v":1.5,"s":"f"},{"p":0.925,"v":0.96,"s":"f"},{"p":0.933,"v":1.1,"s":"f"},{"p":0.94,"v":1.2,"s":"f"},{"p":0.967,"v":5.3,"s":"f"},{"p":0.983,"v":1.0,"s":"f"},{"p":0.988,"v":0.2,"s":"f"},{"p":0.993,"v":0.1,"s":"f"},
{"p":0.04,"v":6.6,"s":"g"},{"p":0.064,"v":5.9,"s":"g"},{"p":0.072,"v":7.0,"s":"g"},{"p":0.088,"v":8.0,"s":"g"},{"p":0.109,"v":6.3,"s":"g"},{"p":0.121,"v":6.8,"s":"g"},{"p":0.128,"v":5.9,"s":"g"},{"p":0.148,"v":5.2,"s":"g"},{"p":0.151,"v":7.6,"s":"g"},{"p":0.156,"v":1.3,"s":"g"},{"p":0.273,"v":8.6,"s":"g"},{"p":0.274,"v":1.7,"s":"g"},{"p":0.207,"v":1.7,"s":"g"},{"p":0.526,"v":8.4,"s":"g"},{"p":0.569,"v":6.5,"s":"g"},{"p":0.636,"v":5.8,"s":"g"},{"p":0.554,"v":2.5,"s":"g"},
{"p":0.163,"v":8.2,"s":"k"},{"p":0.174,"v":-4.8,"s":"k"},{"p":0.214,"v":-10.4,"s":"k"},
{"p":0.225,"v":2.9,"s":"c"},{"p":0.245,"v":-0.2,"s":"c"},{"p":0.351,"v":-4.2,"s":"c"},{"p":0.379,"v":-2.3,"s":"c"},{"p":0.577,"v":1.2,"s":"c"},{"p":0.602,"v":0.2,"s":"c"},{"p":0.632,"v":1.0,"s":"c"},{"p":0.663,"v":1.4,"s":"c"},{"p":0.685,"v":1.7,"s":"c"},{"p":0.708,"v":3.4,"s":"c"},{"p":0.733,"v":2.4,"s":"c"},{"p":0.784,"v":2.5,"s":"c"},{"p":0.804,"v":0,"s":"c"},{"p":0.872,"v":-0.7,"s":"c"},{"p":0.67,"v":-1.5,"s":"c"},
{"p":0.004,"v":-0.5,"s":"d"},{"p":0.025,"v":1.2,"s":"d"},{"p":0.049,"v":-1.4,"s":"d"},{"p":0.056,"v":0,"s":"d"},{"p":0.068,"v":-0.5,"s":"d"},{"p":0.078,"v":-0.25,"s":"d"},{"p":0.086,"v":-0.25,"s":"d"},{"p":0.101,"v":0.5,"s":"d"},{"p":0.106,"v":0.2,"s":"d"},{"p":0.116,"v":-1.2,"s":"d"},{"p":0.129,"v":-0.5,"s":"d"},{"p":0.139,"v":0.3,"s":"d"},{"p":0.156,"v":0.5,"s":"d"},{"p":0.164,"v":0.2,"s":"d"},{"p":0.212,"v":0.2,"s":"d"},{"p":0.277,"v":0.1,"s":"d"},{"p":0.282,"v":-0.1,"s":"d"},{"p":0.328,"v":0.2,"s":"d"},{"p":0.331,"v":0.1,"s":"d"},{"p":0.359,"v":-0.4,"s":"d"},{"p":0.376,"v":0.2,"s":"d"},{"p":0.401,"v":1.1,"s":"d"},{"p":0.406,"v":0.5,"s":"d"},{"p":0.412,"v":-0.7,"s":"d"},{"p":0.448,"v":0,"s":"d"},{"p":0.463,"v":0.7,"s":"d"},{"p":0.496,"v":-0.25,"s":"d"},{"p":0.502,"v":0,"s":"d"},{"p":0.516,"v":0.7,"s":"d"},{"p":0.518,"v":-0.25,"s":"d"},{"p":0.531,"v":-0.1,"s":"d"},{"p":0.56,"v":0.7,"s":"d"},{"p":0.562,"v":-0.5,"s":"d"},{"p":0.579,"v":1.0,"s":"d"},{"p":0.588,"v":0.2,"s":"d"},{"p":0.592,"v":0,"s":"d"},{"p":0.582,"v":-1.0,"s":"d"},{"p":0.645,"v":-1.2,"s":"d"},{"p":0.642,"v":-0.7,"s":"d"},{"p":0.763,"v":-1.4,"s":"d"},{"p":0.812,"v":-1.5,"s":"d"},{"p":0.834,"v":-1.6,"s":"d"},{"p":0.847,"v":-0.25,"s":"d"},{"p":0.862,"v":-0.7,"s":"d"},{"p":0.895,"v":-0.7,"s":"d"},{"p":0.912,"v":-0.4,"s":"d"},{"p":0.928,"v":-1.1,"s":"d"},{"p":0.953,"v":-1.1,"s":"d"},{"p":0.956,"v":0.2,"s":"d"},{"p":0.973,"v":0.96,"s":"d"},{"p":0.983,"v":1.7,"s":"d"},{"p":1.0,"v":0,"s":"d"},
{"p":0.341,"v":1.7,"s":"a"},{"p":0.393,"v":0.7,"s":"a"},{"p":0.408,"v":-3.8,"s":"a"},{"p":0.535,"v":-5.3,"s":"a"},{"p":0.92,"v":-3.6,"s":"a"},
{"p":0.194,"v":-3.7,"s":"b"},{"p":0.245,"v":-4.4,"s":"b"},{"p":0.743,"v":-10.5,"s":"b"},{"p":0.839,"v":-2.9,"s":"b"},{"p":0.877,"v":-2.5,"s":"b"},
{"p":0.02,"v":-4.0,"s":"e"},{"p":0.026,"v":-3.9,"s":"e"},{"p":0.043,"v":-4.9,"s":"e"},{"p":0.072,"v":-1.8,"s":"e"},{"p":0.085,"v":-3.8,"s":"e"},{"p":0.11,"v":-5.6,"s":"e"},{"p":0.128,"v":-5.6,"s":"e"},{"p":0.208,"v":-3.8,"s":"e"},{"p":0.214,"v":-5.9,"s":"e"},{"p":0.233,"v":-5.2,"s":"e"},{"p":0.27,"v":-4.0,"s":"e"},{"p":0.283,"v":-2.7,"s":"e"},{"p":0.283,"v":-4.5,"s":"e"},{"p":0.303,"v":-1.1,"s":"e"},{"p":0.308,"v":-3.3,"s":"e"},{"p":0.314,"v":-3.3,"s":"e"},{"p":0.337,"v":3.9,"s":"e"},{"p":0.337,"v":-1.2,"s":"e"},{"p":0.346,"v":0.6,"s":"e"},{"p":0.383,"v":-1.6,"s":"e"},{"p":0.389,"v":0,"s":"e"},{"p":0.429,"v":-1.0,"s":"e"},{"p":0.434,"v":-3.4,"s":"e"},{"p":0.467,"v":-2.3,"s":"e"},{"p":0.496,"v":-2.3,"s":"e"},{"p":0.522,"v":-2.3,"s":"e"},{"p":0.531,"v":0.6,"s":"e"},{"p":0.543,"v":0.1,"s":"e"},{"p":0.577,"v":-2.6,"s":"e"},{"p":0.602,"v":-2.3,"s":"e"},{"p":0.605,"v":-2.3,"s":"e"},{"p":0.62,"v":-4.5,"s":"e"},{"p":0.635,"v":-2.5,"s":"e"},{"p":0.693,"v":-2.7,"s":"e"},{"p":0.708,"v":-3.5,"s":"e"},{"p":0.716,"v":-4.6,"s":"e"},{"p":0.741,"v":0.2,"s":"e"},{"p":0.765,"v":-5.3,"s":"e"},{"p":0.774,"v":-4.2,"s":"e"},{"p":0.799,"v":-4.7,"s":"e"},{"p":0.812,"v":-9.7,"s":"e"},{"p":0.826,"v":-6.0,"s":"e"},{"p":0.844,"v":-5.1,"s":"e"},{"p":0.877,"v":-3.6,"s":"e"},{"p":0.915,"v":-1.4,"s":"e"},{"p":0.967,"v":-2.7,"s":"e"},{"p":0.978,"v":-3.9,"s":"e"},{"p":0.986,"v":-4.7,"s":"e"},{"p":0.997,"v":-2.6,"s":"e"},
{"p":0.049,"v":-2.6,"s":"i"},{"p":0.116,"v":-1.5,"s":"i"},{"p":0.199,"v":-1.2,"s":"i"},{"p":0.215,"v":-4.9,"s":"i"},{"p":0.284,"v":-1.5,"s":"i"},{"p":0.27,"v":-5.3,"s":"i"},{"p":0.317,"v":-2.9,"s":"i"},{"p":0.322,"v":-2.9,"s":"i"},{"p":0.398,"v":-1.5,"s":"i"},{"p":0.423,"v":-6.5,"s":"i"},{"p":0.445,"v":-1.2,"s":"i"},{"p":0.481,"v":-4.1,"s":"i"},{"p":0.498,"v":-4.0,"s":"i"},{"p":0.518,"v":-4.4,"s":"i"},{"p":0.703,"v":-2.2,"s":"i"},{"p":0.728,"v":-3.3,"s":"i"},{"p":0.761,"v":-2.6,"s":"i"},{"p":0.787,"v":-3.1,"s":"i"},{"p":0.795,"v":-2.4,"s":"i"},{"p":0.861,"v":-4.6,"s":"i"},{"p":0.877,"v":-2.6,"s":"i"},{"p":0.937,"v":-2.2,"s":"i"},
{"p":0.225,"v":-4.7,"s":"j"}
],
"m2":[
{"p":0.001,"v":51.6,"s":"h"},{"p":0.008,"v":46.6,"s":"h"},{"p":0.023,"v":47.6,"s":"h"},{"p":0.094,"v":44.7,"s":"h"},{"p":0.098,"v":42.7,"s":"h"},{"p":0.115,"v":40.6,"s":"h"},{"p":0.227,"v":25.8,"s":"h"},{"p":0.342,"v":7.4,"s":"h"},{"p":0.376,"v":7.2,"s":"h"},{"p":0.423,"v":-3.1,"s":"h"},{"p":0.439,"v":-2.0,"s":"h"},{"p":0.455,"v":-6.2,"s":"h"},{"p":0.501,"v":-2.7,"s":"h"},{"p":0.59,"v":-7.0,"s":"h"},{"p":0.616,"v":-1.9,"s":"h"},{"p":0.674,"v":7.9,"s":"h"},{"p":0.817,"v":32.1,"s":"h"},{"p":0.824,"v":31.7,"s":"h"},{"p":0.875,"v":40.3,"s":"h"},{"p":0.892,"v":43.9,"s":"h"},{"p":0.897,"v":44.5,"s":"h"},{"p":0.997,"v":49.1,"s":"h"},
{"p":0.003,"v":48.1,"s":"f"},{"p":0.003,"v":47.5,"s":"f"},{"p":0.01,"v":53.0,"s":"f"},{"p":0.026,"v":49.7,"s":"f"},{"p":0.033,"v":50.4,"s":"f"},{"p":0.039,"v":48.8,"s":"f"},{"p":0.023,"v":47.3,"s":"f"},{"p":0.056,"v":46.3,"s":"f"},{"p":0.058,"v":45.8,"s":"f"},{"p":0.063,"v":46.0,"s":"f"},{"p":0.068,"v":45.8,"s":"f"},{"p":0.076,"v":45.2,"s":"f"},{"p":0.084,"v":44.8,"s":"f"},{"p":0.089,"v":43.7,"s":"f"},{"p":0.091,"v":44.1,"s":"f"},{"p":0.102,"v":43.1,"s":"f"},{"p":0.109,"v":40.2,"s":"f"},{"p":0.116,"v":39.1,"s":"f"},{"p":0.14,"v":36.3,"s":"f"},{"p":0.14,"v":35.1,"s":"f"},{"p":0.151,"v":35.8,"s":"f"},{"p":0.16,"v":33.9,"s":"f"},{"p":0.184,"v":31.9,"s":"f"},{"p":0.194,"v":30.4,"s":"f"},{"p":0.195,"v":28.8,"s":"f"},{"p":0.197,"v":27.7,"s":"f"},{"p":0.206,"v":26.0,"s":"f"},{"p":0.21,"v":28.55,"s":"f"},{"p":0.213,"v":28.05,"s":"f"},{"p":0.222,"v":23.8,"s":"f"},{"p":0.23,"v":24.4,"s":"f"},{"p":0.247,"v":20.8,"s":"f"},{"p":0.262,"v":21.7,"s":"f"},{"p":0.265,"v":17.9,"s":"f"},{"p":0.269,"v":15.9,"s":"f"},{"p":0.273,"v":16.6,"s":"f"},{"p":0.275,"v":16.15,"s":"f"},{"p":0.288,"v":15.2,"s":"f"},{"p":0.298,"v":15.8,"s":"f"},{"p":0.3,"v":12.15,"s":"f"},{"p":0.303,"v":12.7,"s":"f"},{"p":0.314,"v":11.1,"s":"f"},{"p":0.327,"v":11.35,"s":"f"},{"p":0.328,"v":6.4,"s":"f"},{"p":0.336,"v":5.3,"s":"f"},{"p":0.351,"v":5.9,"s":"f"},{"p":0.354,"v":4.1,"s":"f"},{"p":0.359,"v":1.5,"s":"f"},{"p":0.366,"v":0.1,"s":"f"},{"p":0.384,"v":0.8,"s":"f"},{"p":0.393,"v":-1.0,"s":"f"},{"p":0.403,"v":0.8,"s":"f"},{"p":0.423,"v":0.1,"s":"f"},{"p":0.429,"v":-2.6,"s":"f"},{"p":0.437,"v":-3.2,"s":"f"},{"p":0.442,"v":-4.0,"s":"f"},{"p":0.44,"v":-3.6,"s":"f"},{"p":0.491,"v":-2.95,"s":"f"},{"p":0.491,"v":-4.45,"s":"f"},{"p":0.491,"v":-7.35,"s":"f"},{"p":0.506,"v":-3.9,"s":"f"},{"p":0.511,"v":-4.55,"s":"f"},{"p":0.486,"v":-6.4,"s":"f"},{"p":0.478,"v":-5.25,"s":"f"},{"p":0.544,"v":-6.9,"s":"f"},{"p":0.574,"v":-1.5,"s":"f"},{"p":0.562,"v":-3.5,"s":"f"},{"p":0.597,"v":-0.6,"s":"f"},{"p":0.617,"v":3.2,"s":"f"},{"p":0.63,"v":4.3,"s":"f"},{"p":0.632,"v":6.3,"s":"f"},{"p":0.632,"v":3.4,"s":"f"},{"p":0.642,"v":6.1,"s":"f"},{"p":0.63,"v":2.0,"s":"f"},{"p":0.647,"v":6.3,"s":"f"},{"p":0.655,"v":6.4,"s":"f"},{"p":0.663,"v":8.8,"s":"f"},{"p":0.673,"v":9.65,"s":"f"},{"p":0.679,"v":11.55,"s":"f"},{"p":0.69,"v":11.9,"s":"f"},{"p":0.693,"v":8.8,"s":"f"},{"p":0.708,"v":12.2,"s":"f"},{"p":0.716,"v":14.75,"s":"f"},{"p":0.723,"v":15.9,"s":"f"},{"p":0.731,"v":18.2,"s":"f"},{"p":0.736,"v":19.0,"s":"f"},{"p":0.753,"v":22.9,"s":"f"},{"p":0.753,"v":22.2,"s":"f"},{"p":0.766,"v":23.1,"s":"f"},{"p":0.776,"v":26.4,"s":"f"},{"p":0.784,"v":28.4,"s":"f"},{"p":0.796,"v":28.5,"s":"f"},{"p":0.811,"v":32.6,"s":"f"},{"p":0.827,"v":35.15,"s":"f"},{"p":0.839,"v":38.2,"s":"f"},{"p":0.839,"v":36.6,"s":"f"},{"p":0.853,"v":39.8,"s":"f"},{"p":0.861,"v":38.5,"s":"f"},{"p":0.861,"v":37.9,"s":"f"},{"p":0.886,"v":41.8,"s":"f"},{"p":0.901,"v":42.5,"s":"f"},{"p":0.913,"v":45.2,"s":"f"},{"p":0.916,"v":44.7,"s":"f"},{"p":0.925,"v":45.0,"s":"f"},{"p":0.933,"v":45.7,"s":"f"},{"p":0.94,"v":46.2,"s":"f"},{"p":0.967,"v":51.6,"s":"f"},{"p":0.983,"v":47.75,"s":"f"},{"p":0.988,"v":47.0,"s":"f"},{"p":0.993,"v":47.0,"s":"f"},
{"p":0.04,"v":52.7,"s":"g"},{"p":0.064,"v":50.7,"s":"g"},{"p":0.072,"v":51.2,"s":"g"},{"p":0.088,"v":50.8,"s":"g"},{"p":0.109,"v":47.2,"s":"g"},{"p":0.121,"v":46.4,"s":"g"},{"p":0.128,"v":44.6,"s":"g"},{"p":0.148,"v":41.4,"s":"g"},{"p":0.151,"v":43.4,"s":"g"},{"p":0.156,"v":36.4,"s":"g"},{"p":0.273,"v":25.0,"s":"g"},{"p":0.274,"v":17.9,"s":"g"},{"p":0.207,"v":29.0,"s":"g"},{"p":0.526,"v":2.25,"s":"g"},{"p":0.569,"v":2.4,"s":"g"},{"p":0.636,"v":8.5,"s":"g"},{"p":0.554,"v":-2.5,"s":"g"},
{"p":0.163,"v":42.3,"s":"k"},{"p":0.174,"v":27.7,"s":"k"},{"p":0.214,"v":15.8,"s":"k"},{"p":0.128,"v":25.4,"s":"k"},
{"p":0.225,"v":27.25,"s":"c"},{"p":0.245,"v":20.85,"s":"c"},{"p":0.351,"v":0.2,"s":"c"},{"p":0.379,"v":-1.5,"s":"c"},{"p":0.577,"v":-2.2,"s":"c"},{"p":0.602,"v":-1.0,"s":"c"},{"p":0.632,"v":3.2,"s":"c"},{"p":0.663,"v":7.7,"s":"c"},{"p":0.685,"v":11.3,"s":"c"},{"p":0.708,"v":16.6,"s":"c"},{"p":0.733,"v":19.8,"s":"c"},{"p":0.784,"v":28.4,"s":"c"},{"p":0.804,"v":29.1,"s":"c"},{"p":0.872,"v":38.0,"s":"c"},{"p":0.67,"v":5.8,"s":"c"},
{"p":0.004,"v":46.4,"s":"d"},{"p":0.025,"v":47.75,"s":"d"},{"p":0.049,"v":44.25,"s":"d"},{"p":0.056,"v":45.2,"s":"d"},{"p":0.068,"v":44.0,"s":"d"},{"p":0.078,"v":43.55,"s":"d"},{"p":0.086,"v":42.85,"s":"d"},{"p":0.101,"v":42.2,"s":"d"},{"p":0.106,"v":41.4,"s":"d"},{"p":0.116,"v":38.9,"s":"d"},{"p":0.129,"v":38.1,"s":"d"},{"p":0.139,"v":37.6,"s":"d"},{"p":0.156,"v":35.6,"s":"d"},{"p":0.164,"v":34.1,"s":"d"},{"p":0.212,"v":26.7,"s":"d"},{"p":0.277,"v":15.8,"s":"d"},{"p":0.282,"v":14.8,"s":"d"},{"p":0.328,"v":7.8,"s":"d"},{"p":0.331,"v":7.3,"s":"d"},{"p":0.359,"v":2.9,"s":"d"},{"p":0.376,"v":2.6,"s":"d"},{"p":0.401,"v":-0.4,"s":"d"},{"p":0.406,"v":-1.4,"s":"d"},{"p":0.412,"v":-3.2,"s":"d"},{"p":0.448,"v":-5.1,"s":"d"},{"p":0.463,"v":-5.1,"s":"d"},{"p":0.496,"v":-6.75,"s":"d"},{"p":0.502,"v":-6.5,"s":"d"},{"p":0.516,"v":-5.65,"s":"d"},{"p":0.518,"v":-6.55,"s":"d"},{"p":0.531,"v":-6.05,"s":"d"},{"p":0.56,"v":-3.9,"s":"d"},{"p":0.562,"v":-5.0,"s":"d"},{"p":0.579,"v":-2.3,"s":"d"},{"p":0.588,"v":-2.3,"s":"d"},{"p":0.592,"v":-2.1,"s":"d"},{"p":0.582,"v":-4.0,"s":"d"},{"p":0.645,"v":2.65,"s":"d"},{"p":0.642,"v":2.8,"s":"d"},{"p":0.763,"v":21.0,"s":"d"},{"p":0.812,"v":28.8,"s":"d"},{"p":0.834,"v":32.05,"s":"d"},{"p":0.847,"v":35.25,"s":"d"},{"p":0.862,"v":36.8,"s":"d"},{"p":0.895,"v":40.6,"s":"d"},{"p":0.912,"v":42.5,"s":"d"},{"p":0.928,"v":43.1,"s":"d"},{"p":0.953,"v":44.65,"s":"d"},{"p":0.956,"v":46.1,"s":"d"},{"p":0.973,"v":47.5,"s":"d"},{"p":0.983,"v":48.45,"s":"d"},{"p":1.0,"v":46.9,"s":"d"},
{"p":0.341,"v":7.45,"s":"a"},{"p":0.393,"v":0,"s":"a"},{"p":0.408,"v":-5.9,"s":"a"},{"p":0.535,"v":-11.15,"s":"a"},{"p":0.92,"v":40.0,"s":"a"},
{"p":0.194,"v":25.7,"s":"b"},{"p":0.245,"v":16.65,"s":"b"},{"p":0.743,"v":8.5,"s":"b"},{"p":0.839,"v":31.5,"s":"b"},{"p":0.877,"v":35.8,"s":"b"},
{"p":0.02,"v":42.7,"s":"e"},{"p":0.026,"v":42.6,"s":"e"},{"p":0.043,"v":41.05,"s":"e"},{"p":0.072,"v":42.4,"s":"e"},{"p":0.085,"v":39.35,"s":"e"},{"p":0.11,"v":35.2,"s":"e"},{"p":0.128,"v":33.1,"s":"e"},{"p":0.208,"v":23.4,"s":"e"},{"p":0.214,"v":20.3,"s":"e"},{"p":0.233,"v":17.8,"s":"e"},{"p":0.27,"v":12.9,"s":"e"},{"p":0.283,"v":12.0,"s":"e"},{"p":0.283,"v":10.2,"s":"e"},{"p":0.303,"v":10.4,"s":"e"},{"p":0.308,"v":7.4,"s":"e"},{"p":0.314,"v":6.5,"s":"e"},{"p":0.337,"v":10.2,"s":"e"},{"p":0.337,"v":5.1,"s":"e"},{"p":0.346,"v":5.6,"s":"e"},{"p":0.383,"v":-1.2,"s":"e"},{"p":0.389,"v":-0.3,"s":"e"},{"p":0.429,"v":-4.9,"s":"e"},{"p":0.434,"v":-7.6,"s":"e"},{"p":0.467,"v":-8.2,"s":"e"},{"p":0.496,"v":-8.8,"s":"e"},{"p":0.522,"v":-8.55,"s":"e"},{"p":0.531,"v":-5.35,"s":"e"},{"p":0.543,"v":-5.5,"s":"e"},{"p":0.577,"v":-6.0,"s":"e"},{"p":0.602,"v":-3.5,"s":"e"},{"p":0.605,"v":-3.2,"s":"e"},{"p":0.62,"v":-3.8,"s":"e"},{"p":0.635,"v":0.05,"s":"e"},{"p":0.693,"v":8.2,"s":"e"},{"p":0.708,"v":9.7,"s":"e"},{"p":0.716,"v":9.95,"s":"e"},{"p":0.741,"v":18.9,"s":"e"},{"p":0.765,"v":17.4,"s":"e"},{"p":0.774,"v":19.95,"s":"e"},{"p":0.799,"v":23.6,"s":"e"},{"p":0.812,"v":20.6,"s":"e"},{"p":0.826,"v":26.5,"s":"e"},{"p":0.844,"v":29.95,"s":"e"},{"p":0.877,"v":34.7,"s":"e"},{"p":0.915,"v":41.75,"s":"e"},{"p":0.967,"v":43.6,"s":"e"},{"p":0.978,"v":42.75,"s":"e"},{"p":0.986,"v":42.1,"s":"e"},{"p":0.997,"v":44.3,"s":"e"},
{"p":0.049,"v":43.05,"s":"i"},{"p":0.116,"v":38.6,"s":"i"},{"p":0.199,"v":27.4,"s":"i"},{"p":0.215,"v":21.1,"s":"i"},{"p":0.284,"v":13.0,"s":"i"},{"p":0.27,"v":11.6,"s":"i"},{"p":0.317,"v":6.4,"s":"i"},{"p":0.322,"v":5.6,"s":"i"},{"p":0.398,"v":-2.7,"s":"i"},{"p":0.423,"v":-9.9,"s":"i"},{"p":0.445,"v":-6.1,"s":"i"},{"p":0.481,"v":-10.4,"s":"i"},{"p":0.498,"v":-10.5,"s":"i"},{"p":0.518,"v":-10.7,"s":"i"},{"p":0.703,"v":10.2,"s":"i"},{"p":0.728,"v":13.25,"s":"i"},{"p":0.761,"v":19.45,"s":"i"},{"p":0.787,"v":23.25,"s":"i"},{"p":0.795,"v":25.25,"s":"i"},{"p":0.861,"v":32.7,"s":"i"},{"p":0.877,"v":35.7,"s":"i"},{"p":0.937,"v":42.6,"s":"i"},
{"p":0.225,"v":19.65,"s":"j"}
]
},
"vconcat":[
{"title":{"text":"Binary orbit solution","offset":-9.5,"baseline":"alphabetic","anchor":"middle","dx":31},
"spacing":0,"bounds":"flush",
"resolve":{"scale":{"x":"independent","y":"independent","shape":"independent","fill":"independent","size":"independent"}},
"vconcat":[
{"width":709,"height":560,
"resolve":{"axis":{"x":"independent","y":"independent"}},
"layer":[
{"data":{"name":"c1"},"mark":{"type":"line","color":"#b98585","strokeWidth":1.5,"interpolate":"monotone"},
"encoding":{"x":{"field":"p","type":"quantitative","scale":{"domain":[-0.0405,1.0338],"nice":false,"zero":false},"axis":{"orient":"top","values":[0,0.5,1],"tickSize":-20,"labelPadding":-16,"labelBaseline":"alphabetic","labelExpr":"datum.value + ''","title":null}},
"y":{"field":"v","type":"quantitative","scale":{"domain":[-21.16,60],"nice":false,"zero":false},"axis":{"orient":"left","values":[-20,0,20,40,60],"tickSize":-20,"labelPadding":30,"labelExpr":"datum.value + ''","title":"radial velocity  [km/s]","titleFontSize":13.5,"titleX":-49,"titleY":265.5,"titleBaseline":"middle","titleAlign":"center","titleAngle":270}}}},
{"data":{"name":"m1"},"mark":{"type":"point","stroke":"black","strokeWidth":1.4,"opacity":1,"clip":true},
"encoding":{"x":{"field":"p","type":"quantitative","axis":{"orient":"top","values":[0.1,0.2,0.3,0.4,0.6,0.7,0.8,0.9],"tickSize":-10,"labels":false,"domain":false,"title":null}},
"y":{"field":"v","type":"quantitative","axis":{"orient":"left","values":[-10,10,30,50],"tickSize":-10,"labels":false,"domain":false,"title":null}},
"shape":{"field":"s","type":"nominal","scale":{"domain":["a","b","c","d","e","f","g","h","i","j","k"],"range":["triangle-up","triangle-down","triangle-left","triangle-right","circle","M-1,-1L1,1M-1,1L1,-1","M-1,0L1,0M0,-1L0,1","triangle-up","triangle-down","triangle-right","triangle-left"]},"legend":{"title":null,"orient":"none","legendX":294,"legendY":48,"strokeColor":"black","fillColor":"white","padding":10,"labelFont":"Liberation Sans","labelFontSize":11,"labelColor":"#000","rowPadding":5.9,"symbolStrokeColor":"black","symbolStrokeWidth":1.3,"symbolOffset":3,"labelOffset":20,"labelExpr":"datum.label=='a'?\"KPNO/CF '94\":datum.label=='b'?\"KPNO/CF '95\":datum.label=='c'?\"KPNO/CF '96\":datum.label=='d'?\"KPNO/CF '97\":datum.label=='e'?\"NSO/McMath '96\":datum.label=='f'?'NSO synoptic':datum.label=='g'?'MUSICOS':datum.label=='h'?'Fekel et al.':datum.label=='i'?'Strassmeier 90':datum.label=='j'?'Donati et al.':'Gunn et al.'"}},
"fill":{"field":"s","type":"nominal","scale":{"domain":["a","b","c","d","e","f","g","h","i","j","k"],"range":["black","black","black","black","black","transparent","transparent","transparent","transparent","transparent","transparent"]},"legend":{"title":null,"orient":"none","legendX":294,"legendY":48}},
"size":{"field":"s","type":"nominal","scale":{"domain":["a","b","c","d","e","f","g","h","i","j","k"],"range":[42,42,42,42,16,6,10,40,40,40,40]},"legend":{"title":null,"orient":"none","legendX":294,"legendY":48}}}},
{"data":{"name":"c1"},"mark":{"type":"line","strokeOpacity":0},
"encoding":{"x":{"field":"p","type":"quantitative","axis":{"orient":"bottom","values":[0,0.5,1],"tickSize":-20,"labels":false,"title":null}},
"y":{"field":"v","type":"quantitative","axis":{"orient":"right","values":[-20,0,20,40,60],"tickSize":-15,"labels":false,"domain":false,"title":null}}}},
{"data":{"name":"c1"},"mark":{"type":"line","strokeOpacity":0},
"encoding":{"x":{"field":"p","type":"quantitative","axis":{"orient":"bottom","values":[0.1,0.2,0.3,0.4,0.6,0.7,0.8,0.9],"tickSize":-10,"labels":false,"domain":false,"title":null}},
"y":{"field":"v","type":"quantitative","axis":{"orient":"right","values":[-10,10,30,50],"tickSize":-13,"labels":false,"domain":false,"title":null}}}}
]},
{"width":709,"height":153,
"resolve":{"axis":{"x":"independent","y":"independent"}},
"layer":[
{"data":{"name":"z"},"mark":{"type":"rule","color":"#cccccc","strokeWidth":1.5},
"encoding":{"x":{"field":"a","type":"quantitative","scale":{"domain":[-0.0405,1.0338],"nice":false,"zero":false},"axis":{"orient":"top","values":[0,0.5,1],"tickSize":-20,"labels":false,"title":null}},"x2":{"field":"b"},
"y":{"field":"z","type":"quantitative","scale":{"domain":[-10.96,10.9],"nice":false,"zero":false},"axis":{"orient":"left","values":[-10,-5,0,5,10],"tickSize":-20,"labelPadding":30,"labelExpr":"datum.value + ''","title":"residual RV [km/s]","titleFontSize":16,"titleX":-50,"titleY":70.5,"titleBaseline":"middle","titleAlign":"center","titleAngle":270}}}},
{"data":{"name":"r1"},"mark":{"type":"point","stroke":"black","strokeWidth":1.4,"opacity":1,"clip":true},
"encoding":{"x":{"field":"p","type":"quantitative","axis":{"orient":"top","values":[0.1,0.2,0.3,0.4,0.6,0.7,0.8,0.9],"tickSize":-10,"labels":false,"domain":false,"title":null}},
"y":{"field":"v","type":"quantitative","axis":{"orient":"left","values":[-7.5,-2.5,2.5,7.5],"tickSize":-10,"labels":false,"domain":false,"title":null}},
"shape":{"field":"s","type":"nominal","scale":{"domain":["a","b","c","d","e","f","g","h","i","j","k"],"range":["triangle-up","triangle-down","triangle-left","triangle-right","circle","M-1,-1L1,1M-1,1L1,-1","M-1,0L1,0M0,-1L0,1","triangle-up","triangle-down","triangle-right","triangle-left"]},"legend":null},
"fill":{"field":"s","type":"nominal","scale":{"domain":["a","b","c","d","e","f","g","h","i","j","k"],"range":["black","black","black","black","black","transparent","transparent","transparent","transparent","transparent","transparent"]},"legend":null},
"size":{"field":"s","type":"nominal","scale":{"domain":["a","b","c","d","e","f","g","h","i","j","k"],"range":[42,42,42,42,16,6,10,40,40,40,40]},"legend":null}}},
{"data":{"name":"z"},"mark":{"type":"rule","strokeOpacity":0},
"encoding":{"x":{"field":"a","type":"quantitative","axis":{"orient":"bottom","values":[0,0.5,1],"tickSize":-22,"labelPadding":42,"labelBaseline":"alphabetic","labelFontSize":15,"labelExpr":"datum.value + ''","title":"orbital phase","titleFontSize":16,"titleX":357,"titleY":44,"titleBaseline":"alphabetic","titleAngle":0}},"x2":{"field":"b"},
"y":{"field":"z","type":"quantitative","axis":{"orient":"right","values":[-10,-5,0,5,10],"tickSize":-15,"labels":false,"domain":false,"title":null}}}},
{"data":{"name":"z"},"mark":{"type":"rule","strokeOpacity":0},
"encoding":{"x":{"field":"a","type":"quantitative","axis":{"orient":"bottom","values":[0.1,0.2,0.3,0.4,0.6,0.7,0.8,0.9],"tickSize":-11,"labels":false,"domain":false,"title":null}},"x2":{"field":"b"},
"y":{"field":"z","type":"quantitative","axis":{"orient":"right","values":[-7.5,-2.5,2.5,7.5],"tickSize":-13,"labels":false,"domain":false,"title":null}}}}
]}
]},
{"title":{"text":"Binary orbit solution after tertiary correction","offset":-9.5,"baseline":"alphabetic","anchor":"middle","dx":31},
"spacing":0,"bounds":"flush",
"resolve":{"scale":{"x":"independent","y":"independent","shape":"independent","fill":"independent","size":"independent"}},
"vconcat":[
{"width":709,"height":560,
"resolve":{"axis":{"x":"independent","y":"independent"}},
"layer":[
{"data":{"name":"c2"},"mark":{"type":"line","color":"#b98585","strokeWidth":1.5,"interpolate":"monotone"},
"encoding":{"x":{"field":"p","type":"quantitative","scale":{"domain":[-0.0405,1.0338],"nice":false,"zero":false},"axis":{"orient":"top","values":[0,0.5,1],"tickSize":-20,"labelPadding":-16,"labelBaseline":"alphabetic","labelExpr":"datum.value + ''","title":null}},
"y":{"field":"v","type":"quantitative","scale":{"domain":[-21.16,60],"nice":false,"zero":false},"axis":{"orient":"left","values":[-20,0,20,40,60],"tickSize":-20,"labelPadding":30,"labelExpr":"datum.value + ''","title":"radial velocity  [km/s]","titleFontSize":13.5,"titleX":-49,"titleY":265.5,"titleBaseline":"middle","titleAlign":"center","titleAngle":270}}}},
{"data":{"name":"m2"},"mark":{"type":"point","stroke":"black","strokeWidth":1.4,"opacity":1,"clip":true},
"encoding":{"x":{"field":"p","type":"quantitative","axis":{"orient":"top","values":[0.1,0.2,0.3,0.4,0.6,0.7,0.8,0.9],"tickSize":-10,"labels":false,"domain":false,"title":null}},
"y":{"field":"v","type":"quantitative","axis":{"orient":"left","values":[-10,10,30,50],"tickSize":-10,"labels":false,"domain":false,"title":null}},
"shape":{"field":"s","type":"nominal","scale":{"domain":["a","b","c","d","e","f","g","h","i","j","k"],"range":["triangle-up","triangle-down","triangle-left","triangle-right","circle","M-1,-1L1,1M-1,1L1,-1","M-1,0L1,0M0,-1L0,1","triangle-up","triangle-down","triangle-right","triangle-left"]},"legend":{"title":null,"orient":"none","legendX":294,"legendY":48,"strokeColor":"black","fillColor":"white","padding":10,"labelFont":"Liberation Sans","labelFontSize":11,"labelColor":"#000","rowPadding":5.9,"symbolStrokeColor":"black","symbolStrokeWidth":1.3,"symbolOffset":3,"labelOffset":20,"labelExpr":"datum.label=='a'?\"KPNO/CF '94\":datum.label=='b'?\"KPNO/CF '95\":datum.label=='c'?\"KPNO/CF '96\":datum.label=='d'?\"KPNO/CF '97\":datum.label=='e'?\"NSO/McMath '96\":datum.label=='f'?'NSO synoptic':datum.label=='g'?'MUSICOS':datum.label=='h'?'Fekel et al.':datum.label=='i'?'Strassmeier 90':datum.label=='j'?'Donati et al.':'Gunn et al.'"}},
"fill":{"field":"s","type":"nominal","scale":{"domain":["a","b","c","d","e","f","g","h","i","j","k"],"range":["black","black","black","black","black","transparent","transparent","transparent","transparent","transparent","transparent"]},"legend":{"title":null,"orient":"none","legendX":294,"legendY":48}},
"size":{"field":"s","type":"nominal","scale":{"domain":["a","b","c","d","e","f","g","h","i","j","k"],"range":[42,42,42,42,16,6,10,40,40,40,40]},"legend":{"title":null,"orient":"none","legendX":294,"legendY":48}}}},
{"data":{"name":"c2"},"mark":{"type":"line","strokeOpacity":0},
"encoding":{"x":{"field":"p","type":"quantitative","axis":{"orient":"bottom","values":[0,0.5,1],"tickSize":-20,"labels":false,"title":null}},
"y":{"field":"v","type":"quantitative","axis":{"orient":"right","values":[-20,0,20,40,60],"tickSize":-15,"labels":false,"domain":false,"title":null}}}},
{"data":{"name":"c2"},"mark":{"type":"line","strokeOpacity":0},
"encoding":{"x":{"field":"p","type":"quantitative","axis":{"orient":"bottom","values":[0.1,0.2,0.3,0.4,0.6,0.7,0.8,0.9],"tickSize":-10,"labels":false,"domain":false,"title":null}},
"y":{"field":"v","type":"quantitative","axis":{"orient":"right","values":[-10,10,30,50],"tickSize":-13,"labels":false,"domain":false,"title":null}}}}
]},
{"width":709,"height":153,
"resolve":{"axis":{"x":"independent","y":"independent"}},
"layer":[
{"data":{"name":"z"},"mark":{"type":"rule","color":"#cccccc","strokeWidth":1.5},
"encoding":{"x":{"field":"a","type":"quantitative","scale":{"domain":[-0.0405,1.0338],"nice":false,"zero":false},"axis":{"orient":"top","values":[0,0.5,1],"tickSize":-20,"labels":false,"title":null}},"x2":{"field":"b"},
"y":{"field":"z","type":"quantitative","scale":{"domain":[-10.96,10.9],"nice":false,"zero":false},"axis":{"orient":"left","values":[-10,-5,0,5,10],"tickSize":-20,"labelPadding":30,"labelExpr":"datum.value + ''","title":"residual RV [km/s]","titleFontSize":16,"titleX":-50,"titleY":70.5,"titleBaseline":"middle","titleAlign":"center","titleAngle":270}}}},
{"data":{"name":"r2"},"mark":{"type":"point","stroke":"black","strokeWidth":1.4,"opacity":1,"clip":true},
"encoding":{"x":{"field":"p","type":"quantitative","axis":{"orient":"top","values":[0.1,0.2,0.3,0.4,0.6,0.7,0.8,0.9],"tickSize":-10,"labels":false,"domain":false,"title":null}},
"y":{"field":"v","type":"quantitative","axis":{"orient":"left","values":[-7.5,-2.5,2.5,7.5],"tickSize":-10,"labels":false,"domain":false,"title":null}},
"shape":{"field":"s","type":"nominal","scale":{"domain":["a","b","c","d","e","f","g","h","i","j","k"],"range":["triangle-up","triangle-down","triangle-left","triangle-right","circle","M-1,-1L1,1M-1,1L1,-1","M-1,0L1,0M0,-1L0,1","triangle-up","triangle-down","triangle-right","triangle-left"]},"legend":null},
"fill":{"field":"s","type":"nominal","scale":{"domain":["a","b","c","d","e","f","g","h","i","j","k"],"range":["black","black","black","black","black","transparent","transparent","transparent","transparent","transparent","transparent"]},"legend":null},
"size":{"field":"s","type":"nominal","scale":{"domain":["a","b","c","d","e","f","g","h","i","j","k"],"range":[42,42,42,42,16,6,10,40,40,40,40]},"legend":null}}},
{"data":{"name":"z"},"mark":{"type":"rule","strokeOpacity":0},
"encoding":{"x":{"field":"a","type":"quantitative","axis":{"orient":"bottom","values":[0,0.5,1],"tickSize":-22,"labelPadding":42,"labelBaseline":"alphabetic","labelFontSize":15,"labelExpr":"datum.value + ''","title":"orbital phase","titleFontSize":16,"titleX":357,"titleY":44,"titleBaseline":"alphabetic","titleAngle":0}},"x2":{"field":"b"},
"y":{"field":"z","type":"quantitative","axis":{"orient":"right","values":[-10,-5,0,5,10],"tickSize":-15,"labels":false,"domain":false,"title":null}}}},
{"data":{"name":"z"},"mark":{"type":"rule","strokeOpacity":0},
"encoding":{"x":{"field":"a","type":"quantitative","axis":{"orient":"bottom","values":[0.1,0.2,0.3,0.4,0.6,0.7,0.8,0.9],"tickSize":-11,"labels":false,"domain":false,"title":null}},"x2":{"field":"b"},
"y":{"field":"z","type":"quantitative","axis":{"orient":"right","values":[-7.5,-2.5,2.5,7.5],"tickSize":-13,"labels":false,"domain":false,"title":null}}}}
]}
]}
]
}
